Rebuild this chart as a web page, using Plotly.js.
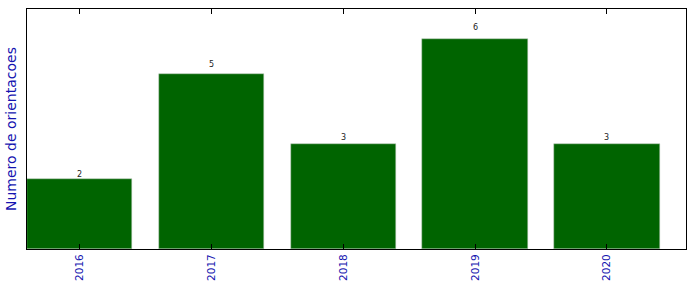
<!DOCTYPE html>
<html><head><meta charset="utf-8">
<script src="https://cdn.plot.ly/plotly-3.0.1.min.js"></script>
<style>html,body{margin:0;padding:0;background:#fff}#c{width:696px;height:292px}</style>
</head><body><div id="c"></div>
<script>
var years = ['2016','2017','2018','2019','2020'];
var counts = [2,5,3,6,3];

var trace = {
  type:'bar', x: years, y: counts, width: 0.8,
  marker:{color:'#006400', line:{color:'#b8c8b8', width:0.5}},
  hoverinfo:'none'
};
var annotations = [];
for (var i = 0; i < years.length; i++) {
  annotations.push({x: i, y: counts[i] * 1.05, text: String(counts[i]), showarrow:false,
    xref:'x', yref:'y', xanchor:'center', yanchor:'middle', yshift:1,
    font:{family:'DejaVu Sans', size:8, color:'#222'}});
}
var layout = {
  width:696, height:292,
  margin:{l:27, r:10, t:9, b:43},
  paper_bgcolor:'#fff', plot_bgcolor:'#fff',
  showlegend:false,
  bargap:0,
  xaxis:{type:'category', range:[-0.4,4.6], showline:true, mirror:'ticks', linecolor:'#000', linewidth:1,
    ticks:'inside', ticklen:5, tickcolor:'#000', tickangle:-90,
    tickfont:{family:'DejaVu Sans', size:10.5, color:'#1515b0'}, showgrid:false, zeroline:false},
  yaxis:{range:[0,6.857], showline:true, mirror:true, linecolor:'#000', linewidth:1,
    showticklabels:false, ticks:'', showgrid:false, zeroline:false,
    title:{text:'Numero de orientacoes', standoff:6, font:{family:'DejaVu Sans', size:14, color:'#1515b0'}}},
  annotations: annotations
};
Plotly.newPlot('c',[trace],layout,{displayModeBar:false});
</script></body></html>
